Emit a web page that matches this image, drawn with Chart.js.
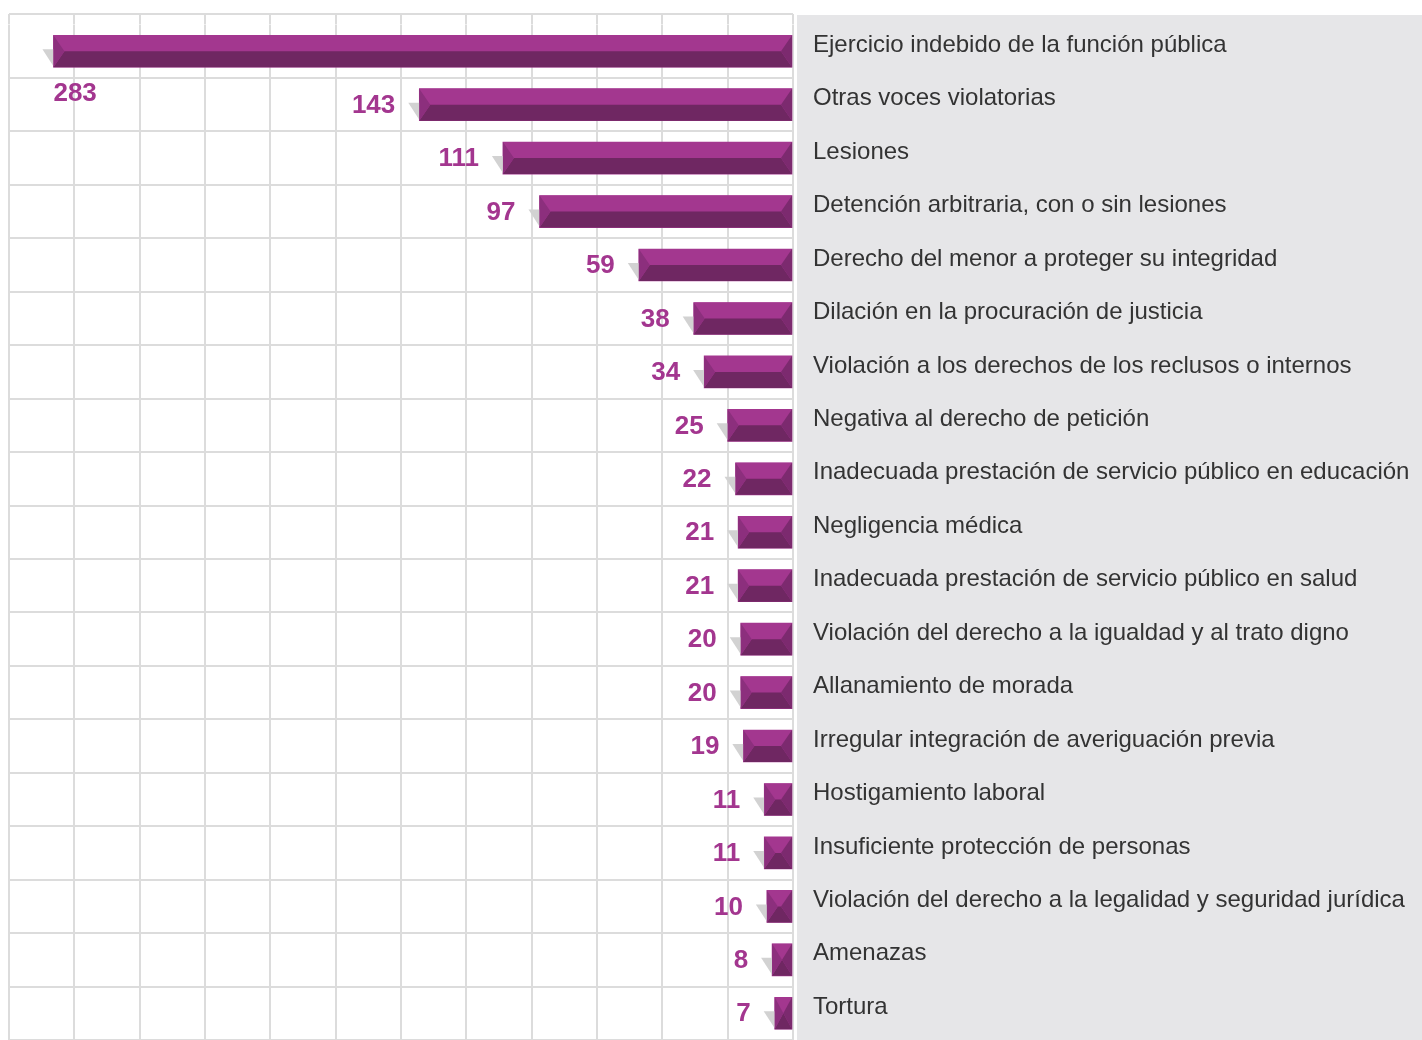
<!DOCTYPE html>
<html>
<head>
<meta charset="utf-8">
<script src="https://cdn.jsdelivr.net/npm/chart.js@4"></script>
<style>
  html, body { margin: 0; padding: 0; background: #ffffff; }
  #wrap { width: 1422px; height: 1040px; position: relative; }
</style>
</head>
<body>
<div id="wrap"><canvas id="c" width="1422" height="1040"></canvas></div>
<script>
const categories = [
  "Ejercicio indebido de la función pública",
  "Otras voces violatorias",
  "Lesiones",
  "Detención arbitraria, con o sin lesiones",
  "Derecho del menor a proteger su integridad",
  "Dilación en la procuración de justicia",
  "Violación a los derechos de los reclusos o internos",
  "Negativa al derecho de petición",
  "Inadecuada prestación de servicio público en educación",
  "Negligencia médica",
  "Inadecuada prestación de servicio público en salud",
  "Violación del derecho a la igualdad y al trato digno",
  "Allanamiento de morada",
  "Irregular integración de averiguación previa",
  "Hostigamiento laboral",
  "Insuficiente protección de personas",
  "Violación del derecho a la legalidad y seguridad jurídica",
  "Amenazas",
  "Tortura"
];
const values = [283, 143, 111, 97, 59, 38, 34, 25, 22, 21, 21, 20, 20, 19, 11, 11, 10, 8, 7];
const axisMax = 300;
const axisStep = 25;

const GRID = '#dcdcdc';
const LIGHT = '#a3378f';
const DARK = '#6f2762';
const LEFTFACE = '#8c2f7d';
const RIGHTFACE = '#7c2a6f';
const VALUE_COLOR = '#a3368f';

const decor = {
  id: 'decor',
  beforeDraw(chart) {
    const ctx = chart.ctx;
    const ca = chart.chartArea;
    ctx.save();
    ctx.fillStyle = '#e6e6e8';
    ctx.fillRect(ca.right + 4, 15, chart.width - ca.right - 4, chart.height - 15);
    ctx.restore();
  },
  beforeDatasetsDraw(chart) {
    const ctx = chart.ctx;
    const ca = chart.chartArea;
    const xs = chart.scales.x;
    const topY = 14;
    ctx.save();
    ctx.strokeStyle = GRID;
    ctx.lineWidth = 2;
    xs.ticks.forEach((t, i) => {
      const px = Math.round(xs.getPixelForTick(i));
      ctx.beginPath();
      ctx.moveTo(px, topY);
      ctx.lineTo(px, ca.top);
      ctx.stroke();
    });
    ctx.beginPath();
    ctx.moveTo(ca.left, topY);
    ctx.lineTo(ca.right, topY);
    ctx.stroke();
    ctx.restore();
  },
  afterDatasetsDraw(chart) {
    const ctx = chart.ctx;
    const ca = chart.chartArea;
    const meta = chart.getDatasetMeta(0);
    ctx.save();
    meta.data.forEach((bar, i) => {
      const left = Math.min(bar.x, bar.base);
      const right = Math.max(bar.x, bar.base);
      const top = bar.y - bar.height / 2;
      const bottom = bar.y + bar.height / 2;
      const mid = bar.y;
      const w = right - left;
      const b = Math.min(11, w / 2);
      ctx.fillStyle = '#d2d2d2';
      ctx.beginPath();
      ctx.moveTo(left - 11, mid - 2);
      ctx.lineTo(left, mid - 2);
      ctx.lineTo(left, bottom - 1);
      ctx.closePath();
      ctx.fill();
      ctx.fillStyle = LIGHT;
      ctx.beginPath();
      ctx.moveTo(left, top); ctx.lineTo(right, top);
      ctx.lineTo(right - b, mid); ctx.lineTo(left + b, mid);
      ctx.closePath(); ctx.fill();
      ctx.fillStyle = DARK;
      ctx.beginPath();
      ctx.moveTo(left + b, mid); ctx.lineTo(right - b, mid);
      ctx.lineTo(right, bottom); ctx.lineTo(left, bottom);
      ctx.closePath(); ctx.fill();
      ctx.fillStyle = LEFTFACE;
      ctx.beginPath();
      ctx.moveTo(left, top); ctx.lineTo(left + b, mid); ctx.lineTo(left, bottom);
      ctx.closePath(); ctx.fill();
      ctx.fillStyle = RIGHTFACE;
      ctx.beginPath();
      ctx.moveTo(right, top); ctx.lineTo(right - b, mid); ctx.lineTo(right, bottom);
      ctx.closePath(); ctx.fill();
      const txt = String(values[i]);
      ctx.font = 'bold 26px "Liberation Sans", Arial, sans-serif';
      ctx.fillStyle = VALUE_COLOR;
      ctx.textBaseline = 'middle';
      const tw = ctx.measureText(txt).width;
      if (left - 25 - tw < ca.left) {
        ctx.textAlign = 'left';
        ctx.fillText(txt, left, bottom + 27);
      } else {
        ctx.textAlign = 'right';
        ctx.fillText(txt, left - 24, mid + 1);
      }
    });
    ctx.restore();
  }
};

new Chart(document.getElementById('c'), {
  type: 'bar',
  data: {
    labels: categories,
    datasets: [{
      data: values,
      backgroundColor: LIGHT,
      borderWidth: 0,
      barThickness: 32
    }]
  },
  options: {
    indexAxis: 'y',
    responsive: false,
    animation: false,
    devicePixelRatio: 1,
    layout: { padding: { left: 9, top: 24.5, right: 0, bottom: 0 } },
    plugins: { legend: { display: false }, tooltip: { enabled: false } },
    scales: {
      x: {
        reverse: true,
        min: 0,
        max: axisMax,
        position: 'top',
        afterFit(scale) { scale.height = 0; scale.paddingLeft = 0; scale.paddingRight = 0; },
        ticks: { display: false, stepSize: axisStep },
        border: { display: false },
        grid: { color: GRID, lineWidth: 2, drawTicks: false }
      },
      y: {
        position: 'right',
        afterFit(scale) { scale.width = 629; scale.paddingTop = 0; scale.paddingBottom = 0; },
        ticks: {
          color: '#333333',
          font: { family: '"Liberation Sans", Arial, sans-serif', size: 24 },
          padding: 20,
          labelOffset: -6,
          crossAlign: 'near'
        },
        border: { display: false },
        grid: {
          drawTicks: false,
          lineWidth: 2,
          color: (c) => ((c.index === 0 || c.index >= categories.length) ? 'rgba(0,0,0,0)' : GRID)
        }
      }
    }
  },
  plugins: [decor]
});
</script>
</body>
</html>
